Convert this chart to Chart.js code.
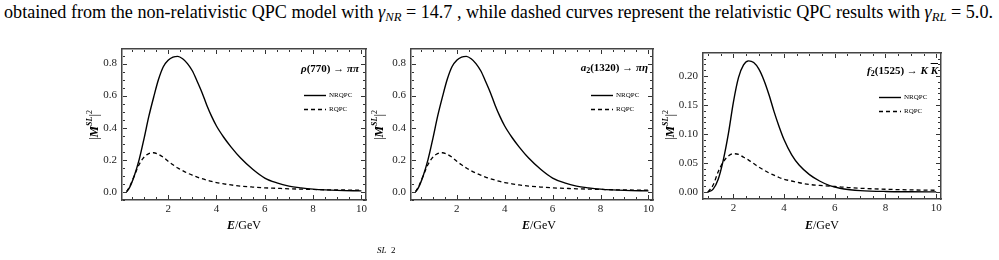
<!DOCTYPE html>
<html>
<head>
<meta charset="utf-8">
<script src="https://cdn.jsdelivr.net/npm/chart.js@4.4.1/dist/chart.umd.min.js"></script>
<style>
  body { margin: 0; background: #fff; width: 999px; height: 260px; overflow: hidden; position: relative;
         font-family: 'Liberation Serif', 'Times New Roman', serif; color: #000; }
  .cap  { position: absolute; left: 4px; top: 3px; font-size: 14px; white-space: nowrap; line-height: 1; }
  .cap sub { font-size: 0.7em; vertical-align: -0.25em; }
  .panel { position: absolute; }
  .xt   { position: absolute; font-size: 12px; line-height: 1; transform: translateX(-50%); white-space: nowrap; }
  .yt   { position: absolute; font-size: 13px; line-height: 1; transform: translate(-50%, -50%) rotate(-90deg); white-space: nowrap; }
  .yt sup { font-size: 8px; vertical-align: 6px; }
  .proc { position: absolute; font-size: 11px; line-height: 1; font-weight: bold; white-space: nowrap; transform: translateX(-100%); }
  .proc sub { font-size: 8px; vertical-align: -2px; }
  .ovl  { text-decoration: overline; }
  .cut  { position: absolute; font-size: 9px; font-style: italic; line-height: 1; }
</style>
</head>
<body>

<div class="cap" id="cap">obtained from the non-relativistic QPC model with <i>γ</i><sub><i>NR</i></sub> = 14.7 , while dashed curves represent the relativistic QPC results with <i>γ</i><sub><i>RL</i></sub> = 5.0.</div>

<div class="panel" id="p0"><canvas id="c0"></canvas></div>
<div class="panel" id="p1"><canvas id="c1"></canvas></div>
<div class="panel" id="p2"><canvas id="c2"></canvas></div>

<!-- etiquetas de ejes -->
<div class="xt" style="left:244px;top:219px"><b><i>E</i></b>/GeV</div>
<div class="xt" style="left:539px;top:219px"><b><i>E</i></b>/GeV</div>
<div class="xt" style="left:822px;top:219px"><b><i>E</i></b>/GeV</div>

<div class="yt" style="left:93px;top:125px">|<b><i>M</i></b><sup><b><i>SL</i></b></sup>|<sup>2</sup></div>
<div class="yt" style="left:378px;top:125px">|<b><i>M</i></b><sup><b><i>SL</i></b></sup>|<sup>2</sup></div>
<div class="yt" style="left:669px;top:125px">|<b><i>M</i></b><sup><b><i>SL</i></b></sup>|<sup>2</sup></div>

<!-- procesos -->
<div class="proc" style="left:359px;top:63px"><i>ρ</i>(770) → <i>ππ</i></div>
<div class="proc" style="left:648px;top:62px"><i>a</i><sub>2</sub>(1320) → <i>πη</i></div>
<div class="proc" style="left:938px;top:65px"><i>f</i><sub>2</sub>(1525) → <i>K</i> <i class="ovl">K</i></div>

<div class="cut" style="left:377px;top:246px">SL</div>
<div class="cut" style="left:391px;top:246px;font-style:normal">2</div>

<script>
// ─── DATOS ────────────────────────────────────────────────────────────────
// ρ(770) → ππ
const E_RHO   = [0.28, 0.4, 0.6, 0.8, 1.0, 1.2, 1.4, 1.6, 1.8, 2.0, 2.2, 2.4, 2.6, 2.8, 3.0, 3.2, 3.4, 3.6, 3.8, 4.0, 4.3, 4.6, 5.0, 5.5, 6.0, 6.5, 7.0, 7.5, 8.0, 8.5, 9.0, 10.0];
const NR_RHO  = [0, 0.025, 0.10, 0.20, 0.33, 0.47, 0.59, 0.70, 0.78, 0.82, 0.84, 0.845, 0.83, 0.80, 0.755, 0.69, 0.62, 0.54, 0.47, 0.41, 0.34, 0.28, 0.21, 0.14, 0.085, 0.055, 0.035, 0.024, 0.016, 0.011, 0.008, 0.005];
const RL_RHO  = [0, 0.03, 0.10, 0.17, 0.215, 0.238, 0.243, 0.233, 0.215, 0.19, 0.168, 0.148, 0.131, 0.116, 0.103, 0.091, 0.081, 0.072, 0.064, 0.057, 0.049, 0.042, 0.035, 0.029, 0.024, 0.021, 0.018, 0.016, 0.014, 0.012, 0.011, 0.009];

// a2(1320) → πη
const E_A2    = [0.28, 0.4, 0.6, 0.8, 1.0, 1.2, 1.4, 1.6, 1.8, 2.0, 2.2, 2.4, 2.6, 2.8, 3.0, 3.2, 3.4, 3.6, 3.8, 4.0, 4.3, 4.6, 5.0, 5.5, 6.0, 6.5, 7.0, 7.5, 8.0, 8.5, 9.0, 10.0];
const NR_A2   = [0, 0.025, 0.10, 0.20, 0.33, 0.47, 0.59, 0.70, 0.78, 0.82, 0.84, 0.845, 0.83, 0.80, 0.755, 0.69, 0.62, 0.54, 0.47, 0.41, 0.34, 0.28, 0.21, 0.14, 0.085, 0.055, 0.035, 0.024, 0.016, 0.011, 0.008, 0.005];
const RL_A2   = [0, 0.03, 0.10, 0.17, 0.215, 0.238, 0.243, 0.233, 0.215, 0.19, 0.168, 0.148, 0.131, 0.116, 0.103, 0.091, 0.081, 0.072, 0.064, 0.057, 0.049, 0.042, 0.035, 0.029, 0.024, 0.021, 0.018, 0.016, 0.014, 0.012, 0.011, 0.009];

// f2(1525) → KK̄
const E_F2    = [0.99, 1.2, 1.4, 1.6, 1.8, 2.0, 2.2, 2.4, 2.6, 2.8, 3.0, 3.2, 3.4, 3.6, 3.8, 4.0, 4.3, 4.6, 5.0, 5.4, 5.8, 6.2, 6.6, 7.0, 8.0, 9.0, 10.0];
const NR_F2   = [0, 0.005, 0.022, 0.055, 0.10, 0.155, 0.197, 0.219, 0.226, 0.223, 0.212, 0.193, 0.168, 0.139, 0.113, 0.090, 0.064, 0.046, 0.030, 0.019, 0.011, 0.0065, 0.004, 0.0025, 0.001, 0.0005, 0.0003];
const RL_F2   = [0, 0.012, 0.035, 0.052, 0.062, 0.066, 0.065, 0.060, 0.055, 0.049, 0.043, 0.038, 0.033, 0.029, 0.025, 0.022, 0.019, 0.016, 0.013, 0.0115, 0.010, 0.009, 0.0075, 0.0065, 0.0048, 0.0037, 0.003];

// ticks
const X_TICKS     = [2, 4, 6, 8, 10];
const Y_TICKS_PI  = [0, 0.2, 0.4, 0.6, 0.8];
const Y_TICKS_K   = [0, 0.05, 0.10, 0.15, 0.20];
const SERIES      = ['NRQPC', 'RQPC'];

// ─── PANELES ──────────────────────────────────────────────────────────────
const panels = [
  { E: E_RHO, nr: NR_RHO, rl: RL_RHO, yTicks: Y_TICKS_PI, dec: 1, xMin: 0.09, xMax: 10.19, yMin: -0.052, yMax: 0.891, yMinor: 0.05,
    frame: { l: 122, t: 49, r: 366, b: 200 }, leg: [46, 60] },
  { E: E_A2,  nr: NR_A2,  rl: RL_A2,  yTicks: Y_TICKS_PI, dec: 1, xMin: 0.09, xMax: 10.19, yMin: -0.052, yMax: 0.891, yMinor: 0.05,
    frame: { l: 411, t: 49, r: 653, b: 200 }, leg: [46, 60] },
  { E: E_F2,  nr: NR_F2,  rl: RL_F2,  yTicks: Y_TICKS_K,  dec: 2, xMin: 0.80, xMax: 10.19, yMin: -0.012, yMax: 0.2395, yMinor: 0.01,
    frame: { l: 703, t: 53, r: 941, b: 199 }, leg: [44, 58] }
];

const Y_BOX = 45, X_BOX = 25, PAD_T = 16, PAD_R = 10;
const FRAME = { display: true, color: '#444', width: 1.5 };

// ticks hacia dentro (estilo Mathematica) + leyenda
function makeFrame(p) {
  return {
    id: 'frameTicks',
    afterDraw(chart) {
      const { ctx, chartArea: a, scales: { x, y } } = chart;
      const L = Math.round(a.left), R = Math.round(a.right) - 1;
      const T = Math.round(a.top), B = Math.round(a.bottom) - 1;
      ctx.save();
      ctx.fillStyle = '#333';
      const isMajor = (v, list) => list.some(m => Math.abs(m - v) < 1e-6);
      for (let i = Math.ceil(x.min / 0.5); i * 0.5 <= x.max; i++) {
        const v = i * 0.5;
        const px = Math.round(x.getPixelForValue(v));
        const len = isMajor(v, X_TICKS) ? 4 : 2;
        ctx.fillRect(px, B - len, 1, len);
        ctx.fillRect(px, T + 1, 1, len);
      }
      for (let i = Math.ceil(y.min / p.yMinor); i * p.yMinor <= y.max; i++) {
        const v = i * p.yMinor;
        const py = Math.round(y.getPixelForValue(v));
        const len = isMajor(v, p.yTicks) ? 4 : 2;
        ctx.fillRect(L + 1, py, len, 1);
        ctx.fillRect(R - len, py, len, 1);
      }

      // leyenda
      chart.data.datasets.forEach((ds, i) => {
        const yy = a.top + p.leg[i] + 0.5;
        ctx.strokeStyle = ds.borderColor;
        ctx.lineWidth = ds.borderWidth;
        ctx.setLineDash(ds.borderDash || []);
        ctx.beginPath();
        ctx.moveTo(a.right - 62, yy);
        ctx.lineTo(a.right - 40, yy);
        ctx.stroke();
        ctx.setLineDash([]);
        ctx.fillStyle = '#000';
        ctx.font = '7px "Liberation Serif"';
        ctx.textBaseline = 'middle';
        ctx.textAlign = 'left';
        ctx.fillText(ds.label, a.right - 37, yy);
      });
      ctx.restore();
    }
  };
}

function toPoints(E, v) {
  return E.map((e, i) => ({ x: e, y: v[i] }));
}

panels.forEach((p, k) => {
  const f = p.frame;
  const w = f.r - f.l + Y_BOX + PAD_R;
  const h = f.b - f.t + X_BOX + PAD_T;
  const box = document.getElementById('p' + k);
  box.style.left = (f.l - Y_BOX) + 'px';
  box.style.top = (f.t - PAD_T) + 'px';
  box.style.width = w + 'px';
  box.style.height = h + 'px';
  const cv = document.getElementById('c' + k);
  cv.width = w; cv.height = h;

  const tickFont = { family: 'Liberation Serif', size: 11 };
  const noGrid = { display: false, drawTicks: false };

  new Chart(cv.getContext('2d'), {
    type: 'line',
    data: {
      datasets: [
        { label: SERIES[0], data: toPoints(p.E, p.nr), borderColor: '#000', borderWidth: 1.4,
          pointRadius: 0, cubicInterpolationMode: 'monotone' },
        { label: SERIES[1], data: toPoints(p.E, p.rl), borderColor: '#000', borderWidth: 1.3,
          borderDash: [4, 3], pointRadius: 0, cubicInterpolationMode: 'monotone' }
      ]
    },
    options: {
      responsive: false,
      animation: false,
      devicePixelRatio: 1,
      layout: { padding: { top: PAD_T, right: PAD_R, left: 0, bottom: 0 } },
      plugins: {
        legend: { display: false },
        tooltip: { enabled: false }
      },
      scales: {
        x: {
          type: 'linear', position: 'bottom', min: p.xMin, max: p.xMax,
          grid: noGrid, border: FRAME,
          ticks: { font: tickFont, color: '#222', padding: 3, maxRotation: 0 },
          afterBuildTicks: s => { s.ticks = X_TICKS.map(v => ({ value: v })); },
          afterFit: s => { s.height = X_BOX; }
        },
        y: {
          type: 'linear', position: 'left', min: p.yMin, max: p.yMax,
          grid: noGrid, border: FRAME,
          ticks: { font: tickFont, color: '#222', padding: 5, callback: v => v.toFixed(p.dec) },
          afterBuildTicks: s => { s.ticks = p.yTicks.map(v => ({ value: v })); },
          afterFit: s => { s.width = Y_BOX; }
        },
        // ejes espejo: solo el borde, para cerrar el marco
        xTop: {
          type: 'linear', position: 'top', min: p.xMin, max: p.xMax,
          grid: noGrid, border: FRAME, ticks: { display: false },
          afterFit: s => { s.height = 0; }
        },
        yRight: {
          type: 'linear', position: 'right', min: p.yMin, max: p.yMax,
          grid: noGrid, border: FRAME, ticks: { display: false },
          afterFit: s => { s.width = 0; }
        }
      }
    },
    plugins: [makeFrame(p)]
  });
});

// ajustar el ancho del texto del pie al de la figura
const cap = document.getElementById('cap');
const cw = cap.getBoundingClientRect().width;
cap.style.fontSize = (14 * 990 / cw).toFixed(2) + 'px';
</script>
</body>
</html>
